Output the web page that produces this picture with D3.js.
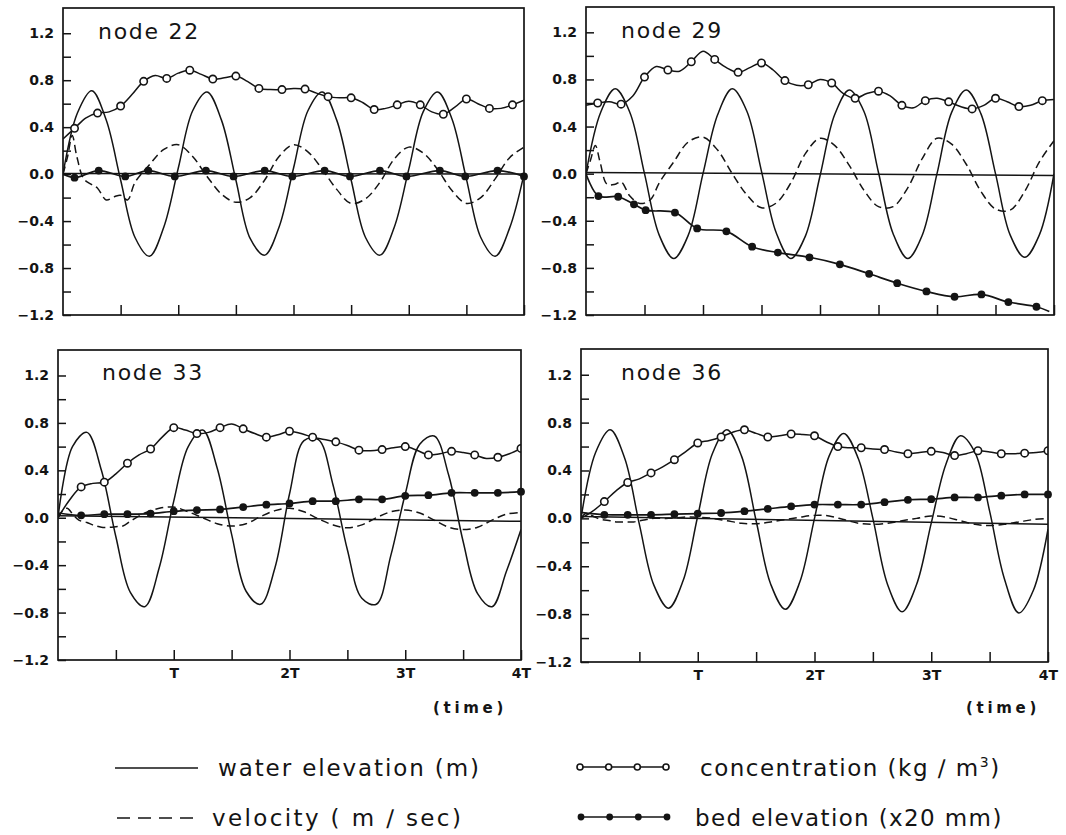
<!DOCTYPE html>
<html><head><meta charset="utf-8">
<script src="https://cdn.jsdelivr.net/npm/d3@7"></script>
<style>body{margin:0;background:#fff}svg{display:block}</style>
</head><body>
<svg id="chart" width="1066" height="835"></svg>
<script>
// ---------------- DATA ----------------
const nodeNames = ["node 22", "node 29", "node 33", "node 36"];
const yTickValues = [-1.2, -0.8, -0.4, 0, 0.4, 0.8, 1.2];
const yTickLabels = ["\u22121.2", "\u22120.8", "\u22120.4", "0.0", "0.4", "0.8", "1.2"];
const yMinorValues = [-1.0, -0.6, -0.2, 0.2, 0.6, 1.0];
const xTickValues = [0.5, 1, 1.5, 2, 2.5, 3, 3.5, 4];
const xTickLabels = ["", "T", "", "2T", "", "3T", "", "4T"];
const timeLabel = "(time)";
const legendLabels = ["water elevation (m)", "velocity ( m \u2215 sec)", "concentration (kg \u2215 m", "bed elevation (x20 mm)"];

// time in units of the tidal period T
const waterT = d3.range(33).map(i => i / 8);
const water22 = [0,0.52,0.71,0.46,-0.05,-0.54,-0.7,-0.45,0.05,0.54,0.7,0.46,-0.05,-0.55,-0.69,-0.45,0.05,0.54,0.7,0.46,-0.05,-0.54,-0.69,-0.45,0.04,0.53,0.7,0.47,-0.04,-0.54,-0.7,-0.46,0.0];
const water29 = [0,0.52,0.72,0.52,0.0,-0.52,-0.72,-0.52,0.0,0.5,0.72,0.53,0.02,-0.5,-0.72,-0.53,-0.02,0.5,0.71,0.53,0.01,-0.51,-0.72,-0.52,0.0,0.52,0.71,0.51,0.0,-0.52,-0.71,-0.52,0.0];
const water33 = [0.0,0.6,0.72,0.4,-0.16,-0.63,-0.75,-0.42,0.14,0.6,0.74,0.42,-0.14,-0.62,-0.73,-0.42,0.2,0.65,0.66,0.28,-0.27,-0.68,-0.73,-0.32,0.2,0.62,0.69,0.36,-0.2,-0.64,-0.75,-0.45,-0.1];
const water36 = [0.0,0.55,0.74,0.5,-0.05,-0.56,-0.75,-0.52,0.02,0.54,0.74,0.52,-0.02,-0.55,-0.76,-0.53,0.0,0.52,0.71,0.5,0.0,-0.55,-0.78,-0.55,-0.04,0.45,0.69,0.55,0.06,-0.5,-0.79,-0.6,-0.09];

const velT = [0,0.04,0.08,0.12,0.18,0.25,0.3,0.375,0.45,0.5,0.56,0.625,0.75,0.875,1.0,1.125,1.25,1.375,1.5,1.625,1.75,1.875,2.0,2.125,2.25,2.375,2.5,2.625,2.75,2.875,3.0,3.125,3.25,3.375,3.5,3.625,3.75,3.875,4.0];
const vel22 = [0,0.15,0.33,0.15,-0.04,-0.09,-0.12,-0.22,-0.19,-0.18,-0.22,-0.07,0.08,0.21,0.25,0.15,-0.02,-0.17,-0.24,-0.2,-0.05,0.15,0.25,0.19,0.04,-0.13,-0.25,-0.21,-0.07,0.13,0.23,0.18,0.04,-0.14,-0.25,-0.2,-0.04,0.14,0.23];
const vel29 = [0,0.12,0.24,0.1,-0.09,-0.09,-0.07,-0.19,-0.25,-0.25,-0.21,-0.08,0.1,0.27,0.31,0.2,0.0,-0.18,-0.29,-0.25,-0.08,0.17,0.3,0.24,0.07,-0.14,-0.28,-0.28,-0.12,0.13,0.3,0.25,0.08,-0.15,-0.3,-0.31,-0.15,0.1,0.28];
const vel33 = [0.0,0.06,0.08,0.04,-0.02,-0.04,-0.06,-0.08,-0.08,-0.075,-0.07,-0.03,0.04,0.08,0.09,0.05,0.0,-0.05,-0.07,-0.05,0.01,0.06,0.08,0.05,-0.01,-0.06,-0.085,-0.06,0.0,0.05,0.065,0.04,-0.02,-0.08,-0.1,-0.08,-0.02,0.03,0.045];
const vel36 = [0.0,0.04,0.03,0.01,-0.01,-0.02,-0.03,-0.03,-0.03,-0.02,-0.01,0.0,0.0,0.01,0.01,0.0,-0.02,-0.04,-0.045,-0.03,-0.01,0.01,0.025,0.02,-0.01,-0.04,-0.05,-0.04,-0.02,0.0,0.02,0.01,-0.02,-0.05,-0.06,-0.05,-0.03,-0.01,0.0];

const concT = d3.range(41).map(i => i / 10);
const conc22 = [0.3,0.39,0.48,0.52,0.53,0.58,0.68,0.79,0.84,0.815,0.86,0.885,0.85,0.81,0.82,0.835,0.79,0.73,0.72,0.72,0.73,0.724,0.69,0.66,0.65,0.65,0.61,0.55,0.56,0.59,0.62,0.59,0.53,0.51,0.57,0.64,0.60,0.56,0.56,0.59,0.63];
const conc29 = [0.58,0.60,0.61,0.59,0.66,0.82,0.91,0.88,0.87,0.95,1.04,0.97,0.90,0.86,0.90,0.94,0.88,0.79,0.75,0.755,0.80,0.77,0.68,0.64,0.68,0.70,0.66,0.58,0.56,0.62,0.64,0.61,0.57,0.55,0.58,0.64,0.61,0.57,0.58,0.62,0.63];
const conc33 = [0.0,0.15,0.26,0.29,0.30,0.37,0.46,0.53,0.58,0.68,0.76,0.74,0.71,0.72,0.76,0.79,0.75,0.71,0.68,0.70,0.73,0.71,0.68,0.66,0.64,0.61,0.57,0.565,0.575,0.59,0.60,0.57,0.53,0.54,0.56,0.55,0.53,0.50,0.51,0.54,0.585];
const conc36 = [0.0,0.06,0.14,0.23,0.30,0.33,0.38,0.43,0.49,0.56,0.63,0.65,0.68,0.72,0.74,0.71,0.68,0.69,0.705,0.70,0.69,0.64,0.60,0.59,0.59,0.58,0.575,0.555,0.54,0.55,0.56,0.55,0.525,0.54,0.565,0.555,0.54,0.54,0.545,0.55,0.565];
const concMarkFirst = [1, 1, 2, 2]; // index of first open-circle marker (every 2nd sample)

const bedT22 = [0,0.1,0.31,0.54,0.74,0.97,1.24,1.48,1.75,1.99,2.27,2.49,2.75,2.98,3.27,3.49,3.77,4.0];
const bed22  = [0.0,-0.03,0.03,-0.02,0.03,-0.02,0.03,-0.02,0.03,-0.02,0.03,-0.02,0.03,-0.02,0.03,-0.02,0.03,-0.02];
const bedT29 = [0,0.106,0.275,0.41,0.51,0.76,0.95,1.2,1.42,1.64,1.91,2.17,2.42,2.66,2.91,3.15,3.38,3.61,3.85,3.96];
const bed29  = [0,-0.19,-0.196,-0.26,-0.31,-0.33,-0.465,-0.49,-0.62,-0.67,-0.71,-0.77,-0.85,-0.93,-1.0,-1.045,-1.025,-1.09,-1.13,-1.17];
const bedT33 = [0,0.2,0.4,0.6,0.8,1.0,1.2,1.4,1.6,1.8,2.0,2.2,2.4,2.6,2.8,3.0,3.2,3.4,3.6,3.8,4.0];
const bed33  = [0.04,0.02,0.03,0.03,0.035,0.055,0.065,0.07,0.09,0.11,0.12,0.14,0.14,0.155,0.155,0.185,0.19,0.21,0.21,0.21,0.22];
const bedT36 = [0,0.2,0.4,0.6,0.8,1.0,1.2,1.4,1.6,1.8,2.0,2.2,2.4,2.6,2.8,3.0,3.2,3.4,3.6,3.8,4.0];
const bed36  = [0.05,0.03,0.03,0.03,0.035,0.04,0.045,0.06,0.08,0.10,0.115,0.115,0.115,0.135,0.155,0.16,0.175,0.175,0.19,0.20,0.20];
const bedDotLast = [17, 18, 20, 20]; // last index carrying a dot

const zero22 = [0.005, 0.0];
const zero29 = [0.01, -0.015];
const zero33 = [0.017, -0.03];
const zero36 = [0.015, -0.05];

// ---------------- LAYOUT ----------------
const layout = [
  {x0: 63,  x1: 524,  y0: 8,   y1: 315, lx: 98,  ly: 39,  tickText: false},
  {x0: 586, x1: 1054, y0: 7,   y1: 315, lx: 621, ly: 38,  tickText: false},
  {x0: 58,  x1: 521,  y0: 350, y1: 660, lx: 102, ly: 380, tickText: true, timeX: 470},
  {x0: 581, x1: 1048, y0: 349, y1: 662, lx: 621, ly: 380, tickText: true, timeX: 1003}
];
const panels = [
  {water: water22, vel: vel22, conc: conc22, bedT: bedT22, bed: bed22, zero: zero22},
  {water: water29, vel: vel29, conc: conc29, bedT: bedT29, bed: bed29, zero: zero29},
  {water: water33, vel: vel33, conc: conc33, bedT: bedT33, bed: bed33, zero: zero33},
  {water: water36, vel: vel36, conc: conc36, bedT: bedT36, bed: bed36, zero: zero36}
];

const INK = "#141414";
const LW = 1.5;
const svg = d3.select("#chart");
const font = "'DejaVu Sans', sans-serif";

function fitWidth(sel, w) {
  const L = sel.node().getComputedTextLength();
  const n = sel.text().length;
  sel.attr("letter-spacing", ((w - L) / Math.max(1, n - 0.5)).toFixed(2));
}

panels.forEach((p, i) => {
  const L = layout[i];
  const x = d3.scaleLinear().domain([0, 4]).range([L.x0, L.x1]);
  const y = d3.scaleLinear().domain([-1.2, 1.415]).range([L.y1, L.y0]);
  const g = svg.append("g");
  const clipId = "clip" + i;
  g.append("clipPath").attr("id", clipId).append("rect")
    .attr("x", L.x0).attr("y", L.y0).attr("width", L.x1 - L.x0).attr("height", L.y1 - L.y0);
  const plot = g.append("g").attr("clip-path", `url(#${clipId})`);
  const line = d3.line().x(d => x(d[0])).y(d => y(d[1])).curve(d3.curveCatmullRom.alpha(0.5));

  // zero reference line
  plot.append("path").attr("d", line([[0, p.zero[0]], [4, p.zero[1]]]))
    .attr("fill", "none").attr("stroke", INK).attr("stroke-width", LW);
  // water elevation
  plot.append("path").attr("d", line(waterT.map((t, k) => [t, p.water[k]])))
    .attr("fill", "none").attr("stroke", INK).attr("stroke-width", LW);
  // velocity
  plot.append("path").attr("d", line(velT.map((t, k) => [t, p.vel[k]])))
    .attr("fill", "none").attr("stroke", INK).attr("stroke-width", LW).attr("stroke-dasharray", "8,4.5");
  // concentration
  const concPts = concT.map((t, k) => [t, p.conc[k]]);
  plot.append("path").attr("d", line(concPts))
    .attr("fill", "none").attr("stroke", INK).attr("stroke-width", LW);
  plot.selectAll("circle.conc").data(concPts.filter((d, k) => k >= concMarkFirst[i] && (k - concMarkFirst[i]) % 2 === 0))
    .join("circle").attr("class", "conc")
    .attr("cx", d => x(d[0])).attr("cy", d => y(d[1])).attr("r", 3.7)
    .attr("fill", "#fff").attr("stroke", INK).attr("stroke-width", 1.6);
  // bed elevation
  const bedPts = p.bedT.map((t, k) => [t, p.bed[k]]);
  plot.append("path").attr("d", line(bedPts))
    .attr("fill", "none").attr("stroke", INK).attr("stroke-width", 1.7);
  g.selectAll("circle.bed").data(bedPts.filter((d, k) => k >= 1 && k <= bedDotLast[i]))
    .join("circle").attr("class", "bed")
    .attr("cx", d => x(d[0])).attr("cy", d => y(d[1])).attr("r", 3.9).attr("fill", INK);

  // frame
  g.append("rect").attr("x", L.x0).attr("y", L.y0).attr("width", L.x1 - L.x0).attr("height", L.y1 - L.y0)
    .attr("fill", "none").attr("stroke", INK).attr("stroke-width", 1.7);

  // y axis (ticks inward)
  const yAll = yTickValues.concat(yMinorValues);
  const yAxis = d3.axisLeft(y).tickValues(yAll).tickSize(-8).tickPadding(9)
    .tickFormat(d => { const k = yTickValues.indexOf(d); return k >= 0 ? yTickLabels[k] : ""; });
  const ya = g.append("g").attr("transform", `translate(${L.x0},0)`).call(yAxis);
  ya.select(".domain").remove();
  ya.selectAll("line").attr("stroke", INK).attr("stroke-width", 1.5);
  ya.selectAll("text").attr("font-family", font).attr("font-weight", "bold").attr("font-size", 14).attr("fill", INK);

  // x axis (ticks inward)
  const xAxis = d3.axisBottom(x).tickValues(xTickValues).tickSize(-10).tickPadding(8)
    .tickFormat((d, k) => L.tickText ? xTickLabels[k] : "");
  const xa = g.append("g").attr("transform", `translate(0,${L.y1})`).call(xAxis);
  xa.select(".domain").remove();
  xa.selectAll("line").attr("stroke", INK).attr("stroke-width", 1.5);
  xa.selectAll("text").attr("font-family", font).attr("font-weight", "bold").attr("font-size", 14).attr("fill", INK);

  if (L.tickText) {
    const tl = g.append("text").attr("x", L.timeX).attr("y", 713).attr("text-anchor", "middle")
      .attr("font-family", font).attr("font-weight", "bold").attr("font-size", 15).attr("fill", INK).text(timeLabel);
    fitWidth(tl, 72);
  }

  // node label
  const nl = g.append("text").attr("x", L.lx).attr("y", L.ly).attr("font-family", font).attr("font-size", 22)
    .attr("fill", INK).text(nodeNames[i]);
  fitWidth(nl, 101);
});

// ---------------- LEGEND ----------------
const lg = svg.append("g");
lg.append("line").attr("x1", 115).attr("x2", 198).attr("y1", 768).attr("y2", 768).attr("stroke", INK).attr("stroke-width", 1.6);
lg.append("line").attr("x1", 117).attr("x2", 201).attr("y1", 818).attr("y2", 818).attr("stroke", INK).attr("stroke-width", 1.6).attr("stroke-dasharray", "13,8");
const t1 = lg.append("text").attr("x", 218).attr("y", 776).attr("font-family", font).attr("font-size", 23).attr("fill", INK).text(legendLabels[0]);
fitWidth(t1, 262);
const t2 = lg.append("text").attr("x", 212).attr("y", 826).attr("font-family", font).attr("font-size", 23).attr("fill", INK).text(legendLabels[1]);
fitWidth(t2, 250);

const legX = d3.scaleLinear().domain([0, 3]).range([580, 666]);
const sample = [0, 1, 2, 3];
lg.append("line").attr("x1", legX(0)).attr("x2", legX(3)).attr("y1", 767).attr("y2", 767).attr("stroke", INK).attr("stroke-width", 1.5);
lg.selectAll("circle.lo").data(sample).join("circle").attr("class", "lo")
  .attr("cx", d => legX(d)).attr("cy", 767).attr("r", 3).attr("fill", "#fff").attr("stroke", INK).attr("stroke-width", 1.6);
lg.append("line").attr("x1", legX(0)).attr("x2", legX(3) + 1).attr("y1", 817).attr("y2", 817).attr("stroke", INK).attr("stroke-width", 1.7);
lg.selectAll("circle.lf").data(sample).join("circle").attr("class", "lf")
  .attr("cx", d => legX(d) + 1).attr("cy", 817).attr("r", 3.4).attr("fill", INK);

const t3 = lg.append("text").attr("x", 700).attr("y", 776).attr("font-family", font).attr("font-size", 23).attr("fill", INK);
t3.append("tspan").text(legendLabels[2]);
t3.append("tspan").attr("dy", -9).attr("font-size", 14).text("3");
t3.append("tspan").attr("dy", 9).text(")");
fitWidth(t3, 300);
const t4 = lg.append("text").attr("x", 695).attr("y", 826).attr("font-family", font).attr("font-size", 23).attr("fill", INK).text(legendLabels[3]);
fitWidth(t4, 307);
</script>
</body></html>
